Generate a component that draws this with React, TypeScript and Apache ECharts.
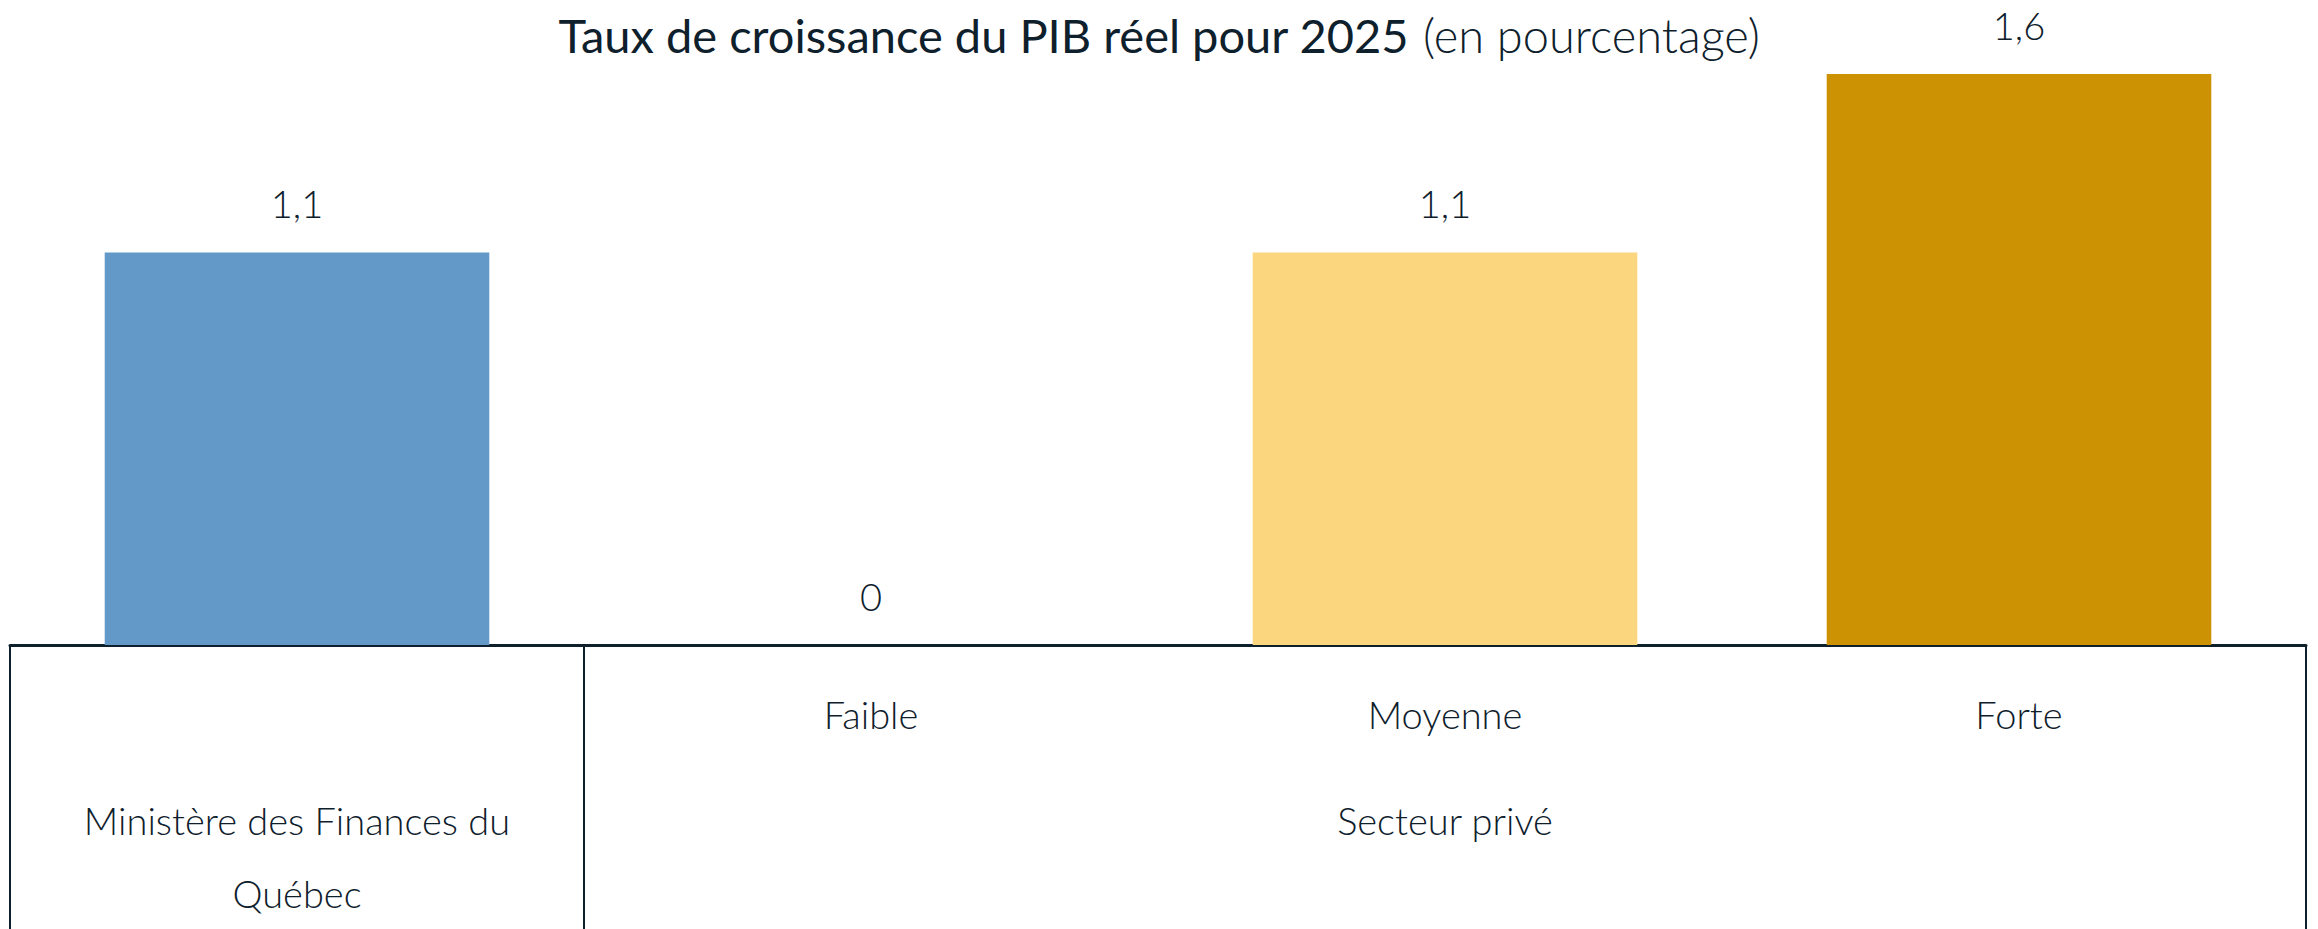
import React, { useEffect, useRef } from "react";
import * as echarts from "echarts";

const categories = ["Ministère des Finances du Québec", "Faible", "Moyenne", "Forte"];
const values = [1.1, 0, 1.1, 1.6];
const scenarioLabels = ["", "Faible", "Moyenne", "Forte"];
const groupLabels = ["Ministère des Finances du\nQuébec", "", "Secteur privé", ""];
const titleMain = "Taux de croissance du PIB réel pour 2025";
const titleSub = "(en pourcentage)";

const barColors = ["#6399c8", "#fcd67e", "#fcd67e", "#cc9204"];
const ink = "#0e202c";
const FONT = "Lato, 'Open Sans', sans-serif";

export default function App() {
  const ref = useRef<HTMLDivElement>(null);
  useEffect(() => {
    if (!ref.current) return;
    const chart = echarts.init(ref.current, undefined, { renderer: "svg" });
    chart.setOption({
      animation: false,
      backgroundColor: "#ffffff",
      title: {
        text: `{b|${titleMain}}{s| }{n|${titleSub}}`,
        left: "center",
        top: 6,
        textStyle: {
          rich: {
            b: { fontFamily: FONT, fontSize: 47, fontWeight: 400, color: ink },
            s: { fontFamily: FONT, fontSize: 47, fontWeight: 400, color: ink, width: 14 },
            n: { fontFamily: FONT, fontSize: 47, fontWeight: 300, color: ink },
          },
        },
      },
      grid: { left: 10, right: 12, top: 74, bottom: 283, containLabel: false },
      xAxis: [
        {
          type: "category",
          data: categories,
          position: "bottom",
          axisLine: { show: true, lineStyle: { color: ink, width: 3 } },
          axisTick: {
            show: true,
            alignWithLabel: false,
            length: 300,
            interval: (index: number) => index === 0 || index === 1,
            lineStyle: { color: ink, width: 2 },
          },
          axisLabel: {
            interval: 0,
            margin: 50,
            formatter: (_v: string, i: number) => scenarioLabels[i],
            fontFamily: FONT,
            fontSize: 38,
            lineHeight: 38,
            color: ink,
            fontWeight: 300,
          },
          splitLine: { show: false },
        },
        {
          type: "category",
          data: categories,
          position: "bottom",
          axisLine: { show: false },
          axisTick: { show: false },
          axisLabel: {
            interval: 0,
            margin: 138,
            formatter: (_v: string, i: number) => groupLabels[i],
            fontFamily: FONT,
            fontSize: 38,
            lineHeight: 73,
            color: ink,
            fontWeight: 300,
          },
          splitLine: { show: false },
        },
      ],
      yAxis: {
        type: "value",
        min: 0,
        max: 1.6,
        show: false,
        splitLine: { show: false },
      },
      series: [
        {
          type: "bar",
          xAxisIndex: 0,
          barCategoryGap: "33%",
          data: values.map((v, i) => ({ value: v, itemStyle: { color: barColors[i] } })),
          label: {
            show: true,
            position: "top",
            distance: 30,
            fontFamily: FONT,
            fontSize: 38,
            fontWeight: 300,
            color: ink,
            formatter: (p: any) => String(p.value).replace(".", ","),
          },
        },
      ],
    });
    return () => chart.dispose();
  }, []);
  return (
    <div
      ref={ref}
      style={{ position: "fixed", left: 0, top: 0, width: 2318, height: 929, background: "#fff" }}
    />
  );
}
